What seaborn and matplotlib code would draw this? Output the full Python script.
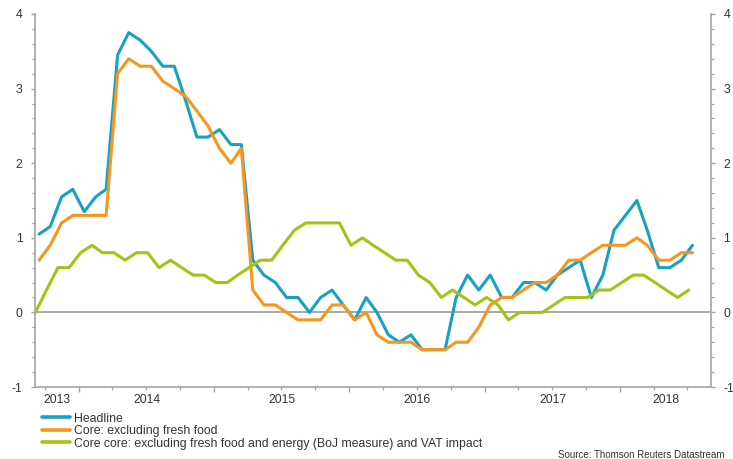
import numpy as np
import pandas as pd
import matplotlib
matplotlib.use("Agg")
import matplotlib.pyplot as plt
import matplotlib.dates as mdates
from matplotlib.ticker import MultipleLocator, NullFormatter
import seaborn as sns

# ---------------- data (monthly, Sep 2013 - Jul 2018) ----------------
months = pd.date_range("2013-09-01", "2018-07-01", freq="MS")

headline = [1.05, 1.15, 1.55, 1.65,
            1.35, 1.55, 1.65, 3.45, 3.75, 3.65, 3.5, 3.3, 3.3, 2.85, 2.35, 2.35,
            2.45, 2.25, 2.25, 0.7, 0.5, 0.4, 0.2, 0.2, 0.0, 0.2, 0.3, 0.1,
            -0.1, 0.2, 0.0, -0.3, -0.4, -0.3, -0.5, -0.5, -0.5, 0.2, 0.5, 0.3,
            0.5, 0.2, 0.2, 0.4, 0.4, 0.3, 0.5, 0.6, 0.7, 0.2, 0.5, 1.1,
            1.3, 1.5, 1.1, 0.6, 0.6, 0.7, 0.9]

core = [0.7, 0.9, 1.2, 1.3,
        1.3, 1.3, 1.3, 3.2, 3.4, 3.3, 3.3, 3.1, 3.0, 2.9, 2.7, 2.5,
        2.2, 2.0, 2.2, 0.3, 0.1, 0.1, 0.0, -0.1, -0.1, -0.1, 0.1, 0.1,
        -0.1, 0.0, -0.3, -0.4, -0.4, -0.4, -0.5, -0.5, -0.5, -0.4, -0.4, -0.2,
        0.1, 0.2, 0.2, 0.3, 0.4, 0.4, 0.5, 0.7, 0.7, 0.8, 0.9, 0.9,
        0.9, 1.0, 0.9, 0.7, 0.7, 0.8, 0.8]

core_core = [0.0, 0.3, 0.6, 0.6,
             0.8, 0.9, 0.8, 0.8, 0.7, 0.8, 0.8, 0.6, 0.7, 0.6, 0.5, 0.5,
             0.4, 0.4, 0.5, 0.6, 0.7, 0.7, 0.9, 1.1, 1.2, 1.2, 1.2, 1.2,
             0.9, 1.0, 0.9, 0.8, 0.7, 0.7, 0.5, 0.4, 0.2, 0.3, 0.2, 0.1,
             0.2, 0.1, -0.1, 0.0, 0.0, 0.0, 0.1, 0.2, 0.2, 0.2, 0.3, 0.3,
             0.4, 0.5, 0.5, 0.4, 0.3, 0.2, 0.3]

series_names = ["Headline",
                "Core: excluding fresh food",
                "Core core: excluding fresh food and energy (BoJ measure) and VAT impact"]
year_labels = ["2013", "2014", "2015", "2016", "2017", "2018"]
y_ticks = [-1, 0, 1, 2, 3, 4]
source_text = "Source: Thomson Reuters Datastream"

colors = {series_names[0]: "#17a1c2",
          series_names[1]: "#f7951e",
          series_names[2]: "#a6c213"}

# ---------------- build table ----------------
d_mid = months + pd.Timedelta(days=14)
d_early = months + pd.Timedelta(days=4)
df = pd.concat([
    pd.DataFrame({"date": d_mid, "value": headline, "series": series_names[0]}),
    pd.DataFrame({"date": d_mid, "value": core, "series": series_names[1]}),
    pd.DataFrame({"date": d_early, "value": core_core, "series": series_names[2]}),
], ignore_index=True)

sns.set_style("white")
plt.rcParams["font.family"] = ["Liberation Sans", "DejaVu Sans"]
plt.rcParams["axes.unicode_minus"] = False

fig = plt.figure(figsize=(7.33, 4.59), dpi=100)
ax = fig.add_axes([35 / 733, 1 - 387 / 459, (711 - 35) / 733, (387 - 14) / 459])

grey = "#a3a3a3"
ax.axhline(0, color=grey, lw=1.3, zorder=1)

sns.lineplot(data=df, x="date", y="value", hue="series", hue_order=series_names,
             palette=colors, linewidth=2.2, ax=ax, legend=True, zorder=3)

x0, x1 = pd.Timestamp("2013-09-04"), pd.Timestamp("2018-09-03")
ax.set_xlim(x0, x1)
ax.set_ylim(-1, 4)

# x ticks
ax.xaxis.set_major_locator(mdates.YearLocator())
ax.xaxis.set_minor_locator(mdates.MonthLocator(bymonth=[1, 4, 7, 10]))
ax.xaxis.set_major_formatter(NullFormatter())
ax.xaxis.set_minor_formatter(NullFormatter())
ax.tick_params(axis="x", which="major", length=3.5, width=1, color=grey, bottom=True)
ax.tick_params(axis="x", which="minor", length=2.2, width=0.9, color=grey, bottom=True)

for lab in year_labels:
    ys = max(pd.Timestamp(f"{lab}-01-01"), x0)
    ye = min(pd.Timestamp(f"{int(lab) + 1}-01-01"), x1)
    c = ys + (ye - ys) / 2
    ax.annotate(lab, xy=(mdates.date2num(c), 0), xycoords=("data", "axes fraction"),
                xytext=(0, -5), textcoords="offset points", ha="center", va="top",
                fontsize=8.8, color="#333333")

# y ticks
ax.set_yticks(y_ticks)
ax.yaxis.set_minor_locator(MultipleLocator(0.2))
ax.tick_params(axis="y", which="both", left=True, right=True, labelleft=True,
               labelright=True, direction="out", color=grey, labelsize=8.8,
               labelcolor="#333333")
ax.tick_params(axis="y", which="major", length=3, width=1, pad=6)
ax.tick_params(axis="y", which="minor", length=2, width=0.9)

for side in ["left", "right", "bottom"]:
    ax.spines[side].set_color(grey)
    ax.spines[side].set_linewidth(1.2)
ax.spines["top"].set_visible(False)

ax.set_xlabel("")
ax.set_ylabel("")

leg = ax.legend(loc="upper left", bbox_to_anchor=(42 / 733, 1 - 412.5 / 459),
                bbox_transform=fig.transFigure, frameon=False, fontsize=8.8,
                handlelength=2.3, handletextpad=0.3, labelspacing=0.05,
                borderpad=0, borderaxespad=0)
for t in leg.get_texts():
    t.set_color("#333333")
for l in leg.get_lines():
    l.set_linewidth(2.6)

fig.text(725 / 733, 1 - 455 / 459, source_text, ha="right", va="center",
         fontsize=7, color="#333333")

fig.savefig("out.png", dpi=100)
